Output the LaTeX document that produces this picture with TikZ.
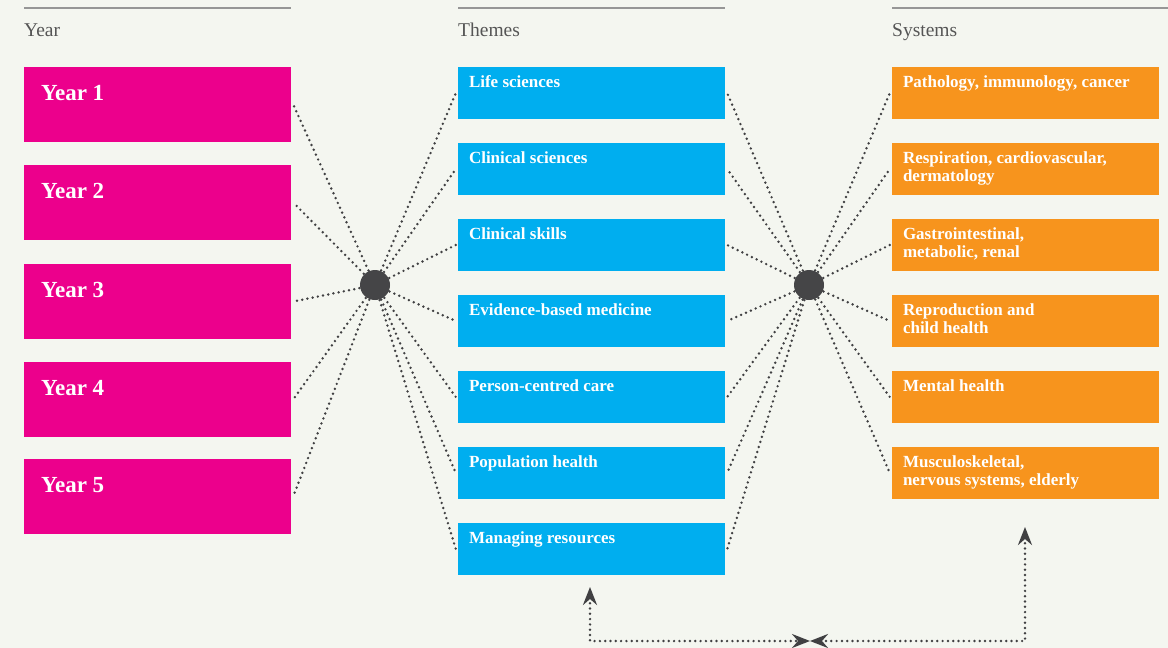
\documentclass[tikz,border=0pt]{standalone}
\usepackage{fontspec}
\setmainfont{Liberation Serif}
\usetikzlibrary{arrows.meta}
\definecolor{bg}{RGB}{244,246,240}
\definecolor{mag}{RGB}{236,0,140}
\definecolor{sky}{RGB}{0,174,239}
\definecolor{orng}{RGB}{247,148,29}
\definecolor{hubc}{RGB}{69,69,71}
\definecolor{dotc}{RGB}{64,64,66}
\definecolor{hdr}{RGB}{85,85,85}
\definecolor{rule}{RGB}{150,150,150}
\tikzset{
  yearbox/.style={fill=mag, minimum width=267pt, minimum height=75pt, inner sep=0pt},
  themebox/.style={fill=sky, minimum width=267pt, minimum height=52pt, inner sep=0pt},
  sysbox/.style={fill=orng, minimum width=267pt, minimum height=52pt, inner sep=0pt},
  yeartext/.style={anchor=base west, inner sep=0pt, text=white, font=\fontsize{23}{26}\selectfont\bfseries},
  boxtext/.style={anchor=base west, inner sep=0pt, text=white, font=\fontsize{17}{18}\selectfont\bfseries},
  header/.style={anchor=base west, inner sep=0pt, text=hdr, font=\fontsize{19.5}{22}\selectfont},
  hdrline/.style={draw=rule, line width=1.6pt},
  hub/.style={circle, fill=hubc, minimum size=30pt, inner sep=0pt},
  dots/.style={draw=dotc, line width=2.7pt, dash pattern=on 0pt off 5.3pt, line cap=round},
  tip/.style={arrows={Stealth[length=18pt,width=14pt,inset=6pt]-Stealth[length=18pt,width=14pt,inset=6pt]}, line cap=round}
}
\newcommand{\twoline}[2]{\parbox[t]{250pt}{#1\\#2}}
\begin{document}
\begin{tikzpicture}[x=1pt,y=-1pt]
\fill[bg] (0,0) rectangle (1168,648);
\useasboundingbox (0,0) rectangle (1168,648);

% headers
\draw[hdrline] (24,8) -- (291,8);
\draw[hdrline] (458,8) -- (725,8);
\draw[hdrline] (892,8) -- (1168,8);
\node[header] (hy) at (24,36) {Year};
\node[header] (ht) at (458,36) {Themes};
\node[header] (hs) at (892,36) {Systems};

% year boxes
\node[yearbox] (y1) at (157.5,104.5) {};
\node[yearbox] (y2) at (157.5,202.5) {};
\node[yearbox] (y3) at (157.5,301.5) {};
\node[yearbox] (y4) at (157.5,399.5) {};
\node[yearbox] (y5) at (157.5,496.5) {};
\foreach \i in {1,...,5}{
  \node[yeartext] (yt\i) at ([shift={(17,34)}]y\i.north west) {Year \i};
}

% theme boxes
\node[themebox] (t1) at (591.5,93) {};
\node[themebox] (t2) at (591.5,169) {};
\node[themebox] (t3) at (591.5,245) {};
\node[themebox] (t4) at (591.5,321) {};
\node[themebox] (t5) at (591.5,397) {};
\node[themebox] (t6) at (591.5,473) {};
\node[themebox] (t7) at (591.5,549) {};
\node[boxtext] (tt1) at ([shift={(11,21)}]t1.north west) {Life sciences};
\node[boxtext] (tt2) at ([shift={(11,21)}]t2.north west) {Clinical sciences};
\node[boxtext] (tt3) at ([shift={(11,21)}]t3.north west) {Clinical skills};
\node[boxtext] (tt4) at ([shift={(11,21)}]t4.north west) {Evidence-based medicine};
\node[boxtext] (tt5) at ([shift={(11,21)}]t5.north west) {Person-centred care};
\node[boxtext] (tt6) at ([shift={(11,21)}]t6.north west) {Population health};
\node[boxtext] (tt7) at ([shift={(11,21)}]t7.north west) {Managing resources};

% system boxes
\node[sysbox] (s1) at (1025.5,93) {};
\node[sysbox] (s2) at (1025.5,169) {};
\node[sysbox] (s3) at (1025.5,245) {};
\node[sysbox] (s4) at (1025.5,321) {};
\node[sysbox] (s5) at (1025.5,397) {};
\node[sysbox] (s6) at (1025.5,473) {};
\node[boxtext] (st1) at ([shift={(11,21)}]s1.north west) {Pathology, immunology, cancer};
\node[boxtext] (st2) at ([shift={(11,21)}]s2.north west) {\twoline{Respiration, cardiovascular,}{dermatology}};
\node[boxtext] (st3) at ([shift={(11,21)}]s3.north west) {\twoline{Gastrointestinal,}{metabolic, renal}};
\node[boxtext] (st4) at ([shift={(11,21)}]s4.north west) {\twoline{Reproduction and}{child health}};
\node[boxtext] (st5) at ([shift={(11,21)}]s5.north west) {Mental health};
\node[boxtext] (st6) at ([shift={(11,21)}]s6.north west) {\twoline{Musculoskeletal,}{nervous systems, elderly}};

% hubs
\coordinate (h1c) at (375,285);
\coordinate (h2c) at (809,285);
\foreach \i in {1,...,5}{ \draw[dots] (h1c) -- ([xshift=2pt]y\i.east); }
\foreach \i in {1,...,7}{ \draw[dots] (h1c) -- ([xshift=-2pt]t\i.west); }
\foreach \i in {1,...,7}{ \draw[dots] (h2c) -- ([xshift=2pt]t\i.east); }
\foreach \i in {1,...,6}{ \draw[dots] (h2c) -- ([xshift=-2pt]s\i.west); }
\node[hub] (h1) at (h1c) {};
\node[hub] (h2) at (h2c) {};

% bottom link
\coordinate (a1) at (590,587);
\coordinate (a2) at (1025,527);
\coordinate (mid) at (810,641);
\draw[dots, tip] (a1) |- (mid);
\draw[dots, tip] (a2) |- (mid);
\end{tikzpicture}
\end{document}
